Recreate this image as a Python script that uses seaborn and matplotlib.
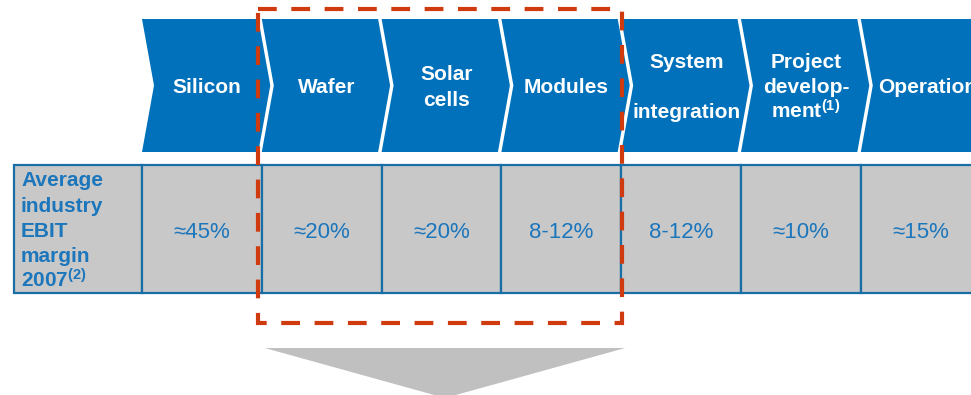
import matplotlib
matplotlib.use("Agg")
import matplotlib.pyplot as plt
from matplotlib.patches import Polygon, Rectangle
import seaborn as sns

# Value-chain stages (label lines) and average EBIT margins
stages = [
    ["Silicon"],
    ["Wafer"],
    ["Solar", "cells"],
    ["Modules"],
    ["System", "", "integration"],
    ["Project", "develop-", "ment$^{(1)}$"],
    ["Operations"],
]
margins = ["\u224845%", "\u224820%", "\u224820%", "8-12%", "8-12%", "\u224810%", "\u224815%"]
row_header = ["Average", "industry", "EBIT", "margin", "2007$^{(2)}$"]
highlight = (1, 3)  # first and last stage inside the dashed frame

sns.set_style("white")
plt.rcParams["font.family"] = ["Liberation Sans", "DejaVu Sans"]
plt.rcParams["mathtext.fontset"] = "custom"
plt.rcParams["mathtext.rm"] = "Liberation Sans:bold"
plt.rcParams["mathtext.it"] = "Liberation Sans:bold"
plt.rcParams["mathtext.bf"] = "Liberation Sans:bold"
plt.rcParams["lines.scale_dashes"] = False

CHEV_BLUE = "#0071BA"
EDGE_BLUE = "#1A6EA6"
TEXT_BLUE = "#1C76BC"
CELL_GRAY = "#C8C8C8"
FRAME_RED = "#CF3A0E"
ARROW_GRAY = "#C0C0C0"

fig = plt.figure(figsize=(9.71, 3.95), dpi=100)
ax = fig.add_axes([0, 0, 1, 1])
ax.set_xlim(0, 971)
ax.set_ylim(395, 0)
ax.axis("off")

x_start, pitch = 142, 119.8
top, bottom = 19, 152
mid = (top + bottom) / 2
notch = 12
body = pitch - 3.5

# Chevrons with stage names
for i, lines in enumerate(stages):
    x0 = x_start + i * pitch
    pts = [(x0, top), (x0 + body, top), (x0 + body + notch, mid),
           (x0 + body, bottom), (x0, bottom), (x0 + notch, mid)]
    ax.add_patch(Polygon(pts, closed=True, facecolor=CHEV_BLUE,
                         edgecolor="none", zorder=2))
    cx = x0 + 65
    n = len(lines)
    if lines[0] == "Operations":
        ax.text(x0 + 17, 93, lines[0], color="white", fontsize=15,
                fontweight="bold", ha="left", va="baseline", zorder=3,
                clip_on=True)
        continue
    step = 25.3
    base0 = 93 - step * (n - 1) / 2
    for k, t in enumerate(lines):
        if t:
            ax.text(cx, base0 + k * step, t, color="white", fontsize=15,
                    fontweight="bold", ha="center", va="baseline", zorder=3)

# Margin row: header cell plus one cell per stage
t_top, t_bot = 165, 293
ax.add_patch(Rectangle((14, t_top), x_start - 14, t_bot - t_top,
                       facecolor=CELL_GRAY, edgecolor=EDGE_BLUE, lw=1.6,
                       zorder=1))
for k, t in enumerate(row_header):
    ax.text(21, 186 + k * 25.5, t, color=TEXT_BLUE, fontsize=15,
            fontweight="bold", ha="left", va="baseline", zorder=3)

for i, m in enumerate(margins):
    x0 = x_start + i * pitch
    ax.add_patch(Rectangle((x0, t_top), pitch, t_bot - t_top,
                           facecolor=CELL_GRAY, edgecolor=EDGE_BLUE, lw=1.6,
                           zorder=1))
    ax.text(x0 + pitch / 2, 238, m, color=TEXT_BLUE, fontsize=16,
            ha="center", va="baseline", zorder=3)

# Dashed frame around the highlighted stages
fx0 = x_start + highlight[0] * pitch - 4
fx1 = x_start + (highlight[1] + 1) * pitch + 1
ax.add_patch(Rectangle((fx0, 9), fx1 - fx0, 323 - 9, facecolor="none",
                       edgecolor=FRAME_RED, lw=3.0,
                       linestyle=(0, (13.5, 10.5)), zorder=4))

# Downward arrow beneath the frame
ax.add_patch(Polygon([(fx0 + 7, 348), (fx1 + 3, 348),
                      ((fx0 + fx1) / 2 + 5, 398)], closed=True,
                     facecolor=ARROW_GRAY, edgecolor="none", zorder=1))

fig.savefig("out.png", dpi=100)
